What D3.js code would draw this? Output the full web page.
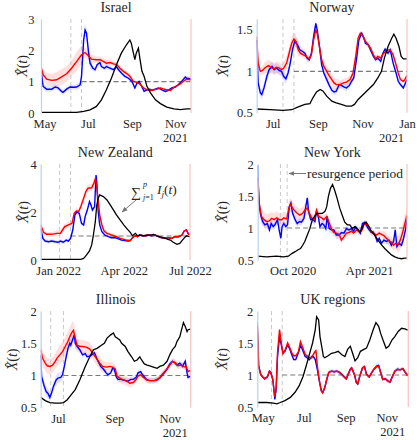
<!DOCTYPE html>
<html><head><meta charset="utf-8">
<script src="https://cdn.jsdelivr.net/npm/d3@7"></script>
<style>body{margin:0;background:#fff} svg{display:block} svg text{font-family:"Liberation Serif","DejaVu Serif","Times New Roman",serif !important;}</style>
</head><body>
<svg id="c" width="420" height="440"></svg>
<script>
// ---------- DATA (day offset from panel start, value) ----------
const israelBlue = [[0,1.38],[3,0.85],[8,0.76],[15,0.76],[20,0.83],[24,0.80],[29,0.69],[31,0.66],[36,0.76],[41,0.83],[46,0.82],[50,0.83],[55,0.90],[57,1.17],[60,2.33],[62,2.65],[64,2.55],[67,1.91],[69,1.59],[73,1.43],[76,1.38],[79,1.54],[83,1.61],[85,1.48],[89,1.43],[92,1.48],[97,1.43],[102,1.38],[106,1.48],[109,1.38],[114,1.25],[118,1.17],[123,1.11],[128,1.01],[132,0.80],[135,0.95],[138,1.01],[142,0.83],[145,0.69],[149,0.74],[153,0.76],[156,0.72],[161,0.76],[165,0.80],[170,0.74],[175,0.69],[179,0.72],[184,0.80],[189,0.83],[193,0.90],[198,1.01],[203,1.15],[205,1.11],[208,1.10],[211,1.08]];
const israelRed = [[0,1.48],[3,1.22],[8,1.08],[15,1.04],[22,1.06],[29,1.15],[36,1.25],[43,1.43],[50,1.64],[57,1.86],[62,1.93],[67,1.82],[71,1.72],[78,1.70],[83,1.70],[88,1.64],[92,1.59],[97,1.61],[102,1.57],[107,1.54],[111,1.43],[116,1.33],[121,1.25],[125,1.17],[130,1.01],[135,0.98],[140,0.90],[144,0.80],[149,0.74],[154,0.72],[158,0.74],[163,0.76],[168,0.80],[172,0.77],[177,0.74],[182,0.72],[186,0.80],[191,0.87],[196,0.93],[200,1.01],[205,1.08],[211,1.06]];
const israelBlack = [[0,0.02],[50,0.02],[60,0.05],[69,0.10],[78,0.21],[85,0.42],[92,0.74],[99,1.11],[107,1.59],[113,1.91],[120,2.17],[125,2.33],[127,2.23],[130,1.91],[132,1.70],[134,1.91],[137,2.07],[139,1.75],[142,1.33],[145,1.17],[149,0.85],[154,0.64],[161,0.42],[168,0.30],[177,0.19],[187,0.13],[196,0.11],[205,0.13],[211,0.13]];
const israelRedBand = [[0,0.12],[5,0.2],[20,0.25],[45,0.3],[60,0.15],[75,0.1],[100,0.08],[130,0.05],[160,0.04]];
const israelBlueBand = [[0,0.1],[10,0.08],[50,0.1],[58,0.18],[70,0.08],[100,0.05],[130,0.04],[195,0.07]];
const israelYTicks = [0, 1, 2, 3];
const israelXTicks = [["2021-05-01","May"],["2021-07-01","Jul"],["2021-09-01","Sep"],["2021-11-01","Nov"]];
const israelMarks = ["2021-06-07","2021-06-22"];

const norwayBlue = [[0,1.38],[2,0.86],[5,0.74],[7,0.72],[10,0.80],[14,0.94],[17,1.02],[21,1.06],[24,1.02],[27,1.04],[31,1.01],[34,1.00],[37,0.94],[40,0.91],[43,0.98],[46,1.10],[49,1.26],[52,1.36],[56,1.32],[59,1.26],[63,1.24],[66,1.22],[69,1.16],[72,1.14],[75,1.22],[78,1.42],[81,1.58],[83,1.50],[86,1.30],[89,1.08],[92,0.98],[96,0.90],[99,0.84],[103,0.77],[106,0.75],[109,0.76],[113,0.84],[116,0.83],[120,0.81],[123,0.80],[127,0.83],[130,0.88],[133,0.92],[137,1.16],[140,1.38],[144,1.46],[147,1.40],[149,1.34],[153,1.32],[156,1.26],[160,1.18],[163,1.14],[166,1.16],[170,1.12],[173,1.22],[176,1.27],[180,1.22],[183,1.26],[187,1.10],[191,0.98],[194,0.88],[197,0.84],[201,0.80],[203,0.84],[206,0.90]];
const norwayRed = [[0,1.42],[2,1.10],[5,1.00],[8,1.01],[11,1.04],[16,1.07],[21,1.04],[24,1.03],[27,1.05],[31,1.04],[34,1.02],[37,1.04],[41,1.10],[45,1.24],[48,1.34],[51,1.39],[54,1.36],[57,1.26],[60,1.22],[64,1.20],[68,1.18],[72,1.15],[75,1.20],[78,1.38],[81,1.50],[83,1.46],[86,1.30],[89,1.14],[92,1.06],[96,1.00],[99,0.95],[103,0.90],[106,0.86],[109,0.84],[114,0.84],[119,0.86],[123,0.87],[128,0.90],[132,0.98],[136,1.20],[139,1.40],[142,1.46],[146,1.42],[149,1.36],[153,1.32],[156,1.28],[160,1.20],[163,1.15],[166,1.18],[170,1.16],[173,1.21],[177,1.24],[180,1.26],[183,1.26],[187,1.20],[191,1.08],[194,0.98],[197,0.90],[201,0.88],[203,0.90],[206,0.95]];
const norwayBlack = [[0,0.545],[18,0.536],[36,0.528],[48,0.536],[57,0.57],[66,0.60],[73,0.61],[77,0.68],[82,0.75],[87,0.78],[91,0.76],[96,0.70],[103,0.64],[109,0.62],[116,0.60],[123,0.58],[130,0.58],[134,0.60],[139,0.66],[146,0.72],[153,0.78],[160,0.84],[166,0.92],[171,1.00],[175,1.16],[180,1.30],[185,1.40],[188,1.45],[191,1.40],[195,1.30],[198,1.18],[201,1.15],[206,1.15]];
const norwayRedBand = [[0,0.05],[10,0.07],[40,0.08],[60,0.04],[90,0.07],[110,0.05],[140,0.03]];
const norwayBlueBand = [[0,0.06],[60,0.04],[140,0.03]];
const norwayYTicks = [0.5, 1, 1.5];
const norwayXTicks = [["2020-07-01","Jul"],["2020-09-01","Sep"],["2020-11-01","Nov"],["2021-01-01","Jan"]];
const norwayMarks = ["2020-07-15","2020-07-30"];

const nzBlue = [[0,1.32],[3,0.90],[6,0.79],[11,0.76],[15,0.79],[20,0.76],[24,0.74],[27,0.79],[31,0.74],[35,0.83],[38,0.79],[41,0.90],[44,1.25],[47,1.88],[50,2.01],[53,1.94],[56,1.53],[59,1.46],[61,1.81],[64,2.08],[67,2.43],[69,2.29],[71,2.08],[74,2.22],[76,3.54],[77,3.26],[79,2.01],[81,1.46],[84,1.18],[88,1.04],[93,0.97],[97,0.93],[102,0.93],[107,0.88],[111,0.83],[116,0.81],[120,0.79],[123,0.81],[126,0.93],[130,1.01],[133,0.97],[136,1.04],[140,1.01],[144,1.01],[148,1.04],[152,1.01],[157,1.04],[162,0.97],[166,0.93],[171,0.93],[175,0.93],[180,0.90],[184,0.97],[189,0.97],[194,1.04],[197,1.21],[200,1.25],[203,1.07],[205,1.07]];
const nzRed = [[0,1.46],[4,1.15],[8,1.07],[15,1.07],[22,1.11],[27,1.11],[30,1.25],[33,1.39],[38,1.46],[43,1.53],[46,1.94],[49,2.04],[52,2.01],[55,2.22],[59,2.57],[62,2.85],[65,2.99],[70,3.01],[73,3.19],[75,3.40],[77,3.06],[79,2.43],[81,1.88],[84,1.46],[87,1.21],[91,1.11],[95,1.07],[100,1.01],[104,0.97],[109,0.90],[114,0.86],[118,0.82],[123,0.81],[126,0.93],[130,1.01],[133,0.97],[136,1.04],[140,1.01],[144,1.01],[148,1.04],[152,1.01],[157,1.04],[162,0.97],[166,0.93],[171,0.93],[175,0.93],[180,0.90],[184,0.97],[189,0.97],[194,1.04],[197,1.21],[200,1.25],[203,1.07],[205,1.07]];
const nzBlack = [[0,0.02],[54,0.02],[59,0.07],[63,0.21],[67,0.38],[70,0.63],[72,0.97],[75,1.60],[77,2.29],[79,2.57],[81,2.71],[86,2.64],[91,2.50],[95,2.32],[100,2.08],[104,1.88],[109,1.67],[114,1.46],[118,1.32],[123,1.15],[126,1.01],[130,1.11],[133,1.01],[136,1.04],[141,1.01],[146,1.04],[150,1.04],[155,1.07],[159,1.01],[164,0.96],[168,0.93],[173,0.88],[178,0.83],[182,0.74],[187,0.65],[191,0.69],[196,0.88],[200,1.01],[205,0.97]];
const nzRedBand = [[0,0.1],[20,0.12],[60,0.15],[85,0.08],[120,0.04]];
const nzBlueBand = [[0,0.08],[50,0.1],[80,0.06],[120,0.03]];
const nzYTicks = [0, 2, 4];
const nzXTicks = [["2022-01-01","Jan 2022"],["2022-04-01","Apr 2022"],["2022-07-01","Jul 2022"]];
const nzMarks = ["2022-01-03","2022-01-18"];

const nyBlue = [[0,1.98],[3,1.41],[7,1.20],[12,1.10],[17,1.05],[23,1.07],[28,0.97],[32,1.07],[37,1.02],[41,1.05],[47,1.13],[51,0.97],[55,0.84],[58,1.02],[62,1.07],[67,1.02],[71,1.05],[75,1.33],[79,1.39],[83,1.23],[89,1.13],[94,1.07],[99,1.10],[104,1.09],[110,1.15],[115,1.36],[118,1.47],[121,1.26],[126,1.13],[130,1.14],[136,1.10],[140,1.26],[144,1.18],[148,1.02],[153,1.07],[157,1.05],[162,0.99],[165,1.18],[170,0.99],[175,0.97],[181,0.97],[187,0.89],[194,0.89],[199,0.93],[205,0.92],[211,0.99],[217,0.97],[223,0.99],[228,0.95],[233,1.02],[239,0.97],[244,0.92],[249,1.07],[255,1.09],[260,1.02],[265,0.97],[270,0.93],[274,0.94],[279,0.89],[284,0.79],[289,0.84],[294,0.76],[300,0.81],[306,0.79],[312,0.81],[318,0.73],[323,0.79],[327,0.97],[331,0.71],[336,0.76],[342,0.73],[347,0.84],[352,0.99],[355,1.15]];
const nyRed = [[0,1.78],[4,1.36],[9,1.18],[15,1.13],[21,1.10],[28,1.11],[33,1.15],[39,1.13],[45,1.16],[51,1.13],[57,1.13],[62,1.16],[69,1.14],[74,1.31],[78,1.37],[83,1.31],[89,1.26],[94,1.23],[100,1.20],[107,1.23],[112,1.28],[118,1.31],[123,1.23],[128,1.16],[134,1.13],[140,1.28],[145,1.18],[152,1.16],[157,1.13],[164,1.18],[169,1.10],[175,0.99],[181,0.93],[187,0.92],[194,0.90],[199,0.81],[205,0.86],[211,0.92],[217,0.93],[223,0.95],[228,0.92],[235,0.97],[241,0.94],[247,0.95],[252,1.05],[258,1.07],[265,1.01],[270,0.93],[276,0.92],[282,0.89],[289,0.92],[294,0.90],[300,0.88],[306,0.84],[312,0.80],[318,0.78],[323,0.73],[328,0.76],[334,0.74],[339,0.81],[345,0.94],[350,1.07],[355,1.20]];
const nyBlack = [[0,0.56],[21,0.55],[45,0.56],[61,0.55],[73,0.56],[81,0.60],[89,0.63],[96,0.66],[102,0.68],[107,0.73],[112,0.79],[118,0.89],[124,0.99],[130,1.13],[136,1.19],[142,1.23],[148,1.23],[154,1.23],[160,1.26],[164,1.33],[168,1.49],[173,1.62],[178,1.68],[183,1.59],[189,1.46],[195,1.31],[202,1.18],[207,1.09],[213,1.05],[219,1.05],[225,0.99],[231,1.02],[236,0.99],[243,0.94],[248,0.99],[253,1.07],[258,1.09],[265,1.02],[270,0.95],[278,0.89],[286,0.81],[294,0.74],[302,0.68],[310,0.63],[318,0.58],[326,0.55],[334,0.53],[342,0.52],[349,0.53],[355,0.53]];
const nyRedBand = [[0,0.12],[30,0.1],[120,0.06],[200,0.05],[300,0.08],[330,0.14]];
const nyBlueBand = [[0,0.06],[200,0.04],[300,0.05]];
const nyYTicks = [0.5, 1, 1.5, 2];
const nyXTicks = [["2020-10-01","Oct 2020"],["2021-04-01","Apr 2021"]];
const nyMarks = ["2020-09-02","2020-09-18"];

const ilBlue = [[0,1.32],[1,0.98],[4,0.83],[6,0.75],[8,0.72],[10,0.66],[12,0.73],[14,0.83],[17,0.93],[19,0.96],[22,0.97],[24,1.01],[26,1.14],[28,1.29],[30,1.42],[32,1.50],[33,1.47],[35,1.55],[37,1.63],[38,1.50],[40,1.45],[43,1.40],[46,1.32],[49,1.34],[51,1.29],[54,1.30],[56,1.32],[59,1.35],[61,1.29],[63,1.22],[66,1.14],[69,1.10],[72,1.04],[74,1.01],[77,1.04],[79,1.11],[81,1.10],[83,0.98],[85,0.94],[88,0.94],[91,0.93],[94,0.92],[96,0.91],[99,0.94],[102,0.94],[105,0.97],[107,1.04],[110,1.06],[112,1.01],[115,0.96],[117,0.93],[120,0.92],[123,0.92],[126,0.92],[128,0.94],[131,0.96],[134,1.01],[137,1.06],[139,1.10],[142,1.18],[145,1.22],[148,1.19],[150,1.16],[153,1.19],[156,1.14],[159,1.22],[161,1.04],[162,0.97],[165,0.99]];
const ilRed = [[0,1.40],[2,1.27],[5,1.19],[7,1.15],[10,1.14],[13,1.16],[16,1.22],[18,1.27],[21,1.32],[24,1.37],[27,1.45],[30,1.53],[32,1.60],[34,1.66],[36,1.70],[38,1.58],[40,1.47],[43,1.45],[46,1.45],[50,1.44],[54,1.41],[57,1.35],[61,1.27],[65,1.19],[68,1.14],[72,1.13],[76,1.14],[79,1.13],[82,1.10],[84,0.99],[87,0.96],[91,0.93],[95,0.91],[98,0.88],[102,0.89],[105,0.94],[107,0.99],[110,1.01],[113,0.97],[117,0.93],[120,0.92],[124,0.92],[128,0.93],[131,0.97],[135,1.04],[139,1.10],[142,1.16],[145,1.22],[148,1.20],[151,1.15],[155,1.16],[158,1.13],[160,1.14],[162,1.06],[165,1.08]];
const ilBlack = [[0,0.66],[5,0.61],[10,0.58],[16,0.57],[21,0.57],[25,0.58],[29,0.62],[33,0.69],[38,0.78],[43,0.93],[49,1.14],[54,1.29],[58,1.40],[62,1.42],[66,1.46],[70,1.50],[73,1.58],[77,1.63],[80,1.66],[82,1.60],[84,1.58],[87,1.55],[89,1.50],[93,1.45],[96,1.37],[100,1.29],[103,1.22],[106,1.24],[109,1.29],[111,1.24],[114,1.18],[117,1.16],[120,1.15],[124,1.13],[128,1.11],[131,1.14],[135,1.16],[139,1.22],[142,1.32],[145,1.40],[148,1.45],[150,1.53],[153,1.60],[155,1.71],[157,1.82],[159,1.76],[161,1.68],[162,1.71],[165,1.72]];
const ilRedBand = [[0,0.12],[20,0.15],[40,0.1],[70,0.07],[100,0.05]];
const ilBlueBand = [[0,0.08],[40,0.04]];
const ilYTicks = [0.5, 1, 1.5, 2];
const ilXTicks = [["2021-07-01","Jul"],["2021-09-01","Sep"],["2021-11-01","Nov"]];
const ilMarks = ["2021-06-23","2021-07-07"];

const ukBlue = [[0,1.76],[2,1.14],[5,1.01],[8,0.97],[11,0.94],[15,0.97],[18,1.06],[20,1.04],[23,0.93],[25,0.73],[26,0.62],[28,0.78],[30,1.29],[33,1.60],[35,1.50],[38,1.35],[41,1.37],[45,1.47],[48,1.41],[51,1.32],[54,1.24],[57,1.24],[61,1.35],[64,1.46],[67,1.40],[71,1.29],[74,1.27],[77,1.24],[81,1.29],[83,1.29],[86,1.24],[89,1.09],[92,0.91],[95,0.75],[97,0.73],[100,0.80],[103,0.93],[106,1.04],[110,1.06],[114,1.05],[118,1.06],[122,1.04],[125,1.01],[129,0.97],[132,0.94],[134,0.99],[138,1.09],[140,1.11],[144,1.01],[147,0.88],[149,0.86],[152,0.98],[156,1.11],[159,1.13],[162,1.01],[166,0.97],[170,1.04],[173,1.09],[177,1.14],[180,1.15],[183,1.04],[186,0.93],[190,0.94],[193,0.91],[197,0.89],[201,0.99],[204,1.06],[208,1.09],[212,1.08],[216,1.10],[219,1.05],[223,0.99]];
const ukRed = [[0,1.82],[2,1.14],[5,1.01],[8,0.97],[11,0.94],[15,0.97],[18,1.06],[20,1.04],[23,0.93],[25,0.74],[26,0.66],[28,0.80],[30,1.35],[33,1.71],[35,1.55],[38,1.33],[41,1.38],[45,1.50],[48,1.43],[51,1.35],[54,1.30],[57,1.30],[61,1.36],[64,1.52],[67,1.44],[71,1.32],[74,1.30],[77,1.27],[81,1.27],[83,1.32],[86,1.37],[87,1.38],[89,1.15],[92,0.91],[95,0.75],[97,0.72],[100,0.80],[103,0.93],[106,1.04],[110,1.06],[114,1.05],[118,1.06],[122,1.04],[125,1.01],[129,0.97],[132,0.94],[134,0.99],[138,1.09],[140,1.11],[144,1.01],[147,0.88],[149,0.86],[152,0.98],[156,1.11],[159,1.13],[162,1.01],[166,0.97],[170,1.04],[173,1.09],[177,1.13],[180,1.14],[183,1.04],[186,0.93],[190,0.94],[193,0.91],[197,0.89],[201,0.99],[204,1.06],[208,1.09],[212,1.08],[216,1.10],[219,1.05],[223,0.99]];
const ukBlack = [[0,0.57],[14,0.57],[24,0.56],[29,0.55],[34,0.57],[41,0.60],[49,0.65],[56,0.73],[62,0.83],[68,0.98],[73,1.16],[78,1.35],[82,1.50],[86,1.71],[88,1.91],[91,1.86],[93,1.60],[96,1.42],[98,1.29],[100,1.27],[105,1.30],[110,1.34],[115,1.35],[120,1.37],[125,1.32],[130,1.29],[134,1.40],[138,1.45],[142,1.32],[145,1.22],[149,1.27],[153,1.37],[158,1.40],[162,1.42],[167,1.55],[172,1.71],[176,1.82],[180,1.76],[183,1.65],[187,1.53],[191,1.42],[195,1.45],[200,1.55],[204,1.60],[209,1.68],[214,1.73],[219,1.72],[223,1.70]];
const ukRedBand = [[0,0.03]];
const ukBlueBand = [[0,0.03]];
const ukYTicks = [0.5, 1, 1.5, 2];
const ukXTicks = [["2021-05-01","May"],["2021-07-01","Jul"],["2021-09-01","Sep"],["2021-11-01","Nov"]];
const ukMarks = ["2021-05-14","2021-05-30"];

// ---------- LAYOUT ----------
const panels = [
  {title:"Israel", start:"2021-04-26", end:"2021-11-23", blue:israelBlue, red:israelRed, black:israelBlack, rb:israelRedBand, bb:israelBlueBand, yd:[0,3], yt:israelYTicks, xt:israelXTicks, marks:israelMarks, year:"2021", box:[41,191,19,113], ylx:27, ypad:6.5},
  {title:"Norway", start:"2020-06-09", end:"2021-01-01", blue:norwayBlue, red:norwayRed, black:norwayBlack, rb:norwayRedBand, bb:norwayBlueBand, yd:[0.5,1.633], yt:norwayYTicks, xt:norwayXTicks, marks:norwayMarks, year:"2021", box:[256.7,407,19,112.7], ylx:228, ypad:4},
  {title:"New Zealand", start:"2021-12-08", end:"2022-07-01", blue:nzBlue, red:nzRed, black:nzBlack, rb:nzRedBand, bb:nzBlueBand, yd:[0,4], yt:nzYTicks, xt:nzXTicks, marks:nzMarks, year:null, box:[40.7,190,164,260], ylx:28, ypad:4},
  {title:"New York", start:"2020-07-10", end:"2021-06-30", blue:nyBlue, red:nyRed, black:nyBlack, rb:nyRedBand, bb:nyBlueBand, yd:[0.5,2], yt:nyYTicks, xt:nyXTicks, marks:nyMarks, year:null, box:[257.7,407,164,260], ylx:227, ypad:4},
  {title:"Illinois", start:"2021-06-12", end:"2021-11-24", blue:ilBlue, red:ilRed, black:ilBlack, rb:ilRedBand, bb:ilBlueBand, yd:[0.5,2], yt:ilYTicks, xt:ilXTicks, marks:ilMarks, year:"2021", box:[40.7,190.7,311,407.7], ylx:17, ypad:4},
  {title:"UK regions", start:"2021-04-23", end:"2021-12-03", blue:ukBlue, red:ukRed, black:ukBlack, rb:ukRedBand, bb:ukBlueBand, yd:[0.5,2], yt:ukYTicks, xt:ukXTicks, marks:ukMarks, year:"2021", box:[257.3,408.3,311,407], ylx:227, ypad:4}
];

const FONT = "Liberation Serif, DejaVu Serif, serif";
const TXT = "#262626";
const parse = d3.timeParse("%Y-%m-%d");
const svg = d3.select("#c");
const defs = svg.append("defs");
defs.append("marker").attr("id","arr").attr("viewBox","0 0 10 10").attr("refX",9).attr("refY",5)
  .attr("markerWidth",6).attr("markerHeight",6).attr("orient","auto-start-reverse")
  .append("path").attr("d","M0,1 L10,5 L0,9 z").attr("fill","#777");

function bandAt(band, d){ let w = band[0][1]; for (const [bd,bw] of band) if (bd <= d) w = bw; return w; }

panels.forEach((p, i) => {
  const [L,R,T,B] = p.box;
  const s = parse(p.start), e = parse(p.end);
  const x = d3.scaleTime().domain([s,e]).range([L,R]);
  const y = d3.scaleLinear().domain(p.yd).range([B,T]);
  const dt = d => d3.timeDay.offset(s, d);
  const g = svg.append("g");
  const cid = "clip"+i;
  defs.append("clipPath").attr("id",cid).append("rect").attr("x",L).attr("y",T).attr("width",R-L).attr("height",B-T);
  const plot = g.append("g").attr("clip-path",`url(#${cid})`);

  const area = (band) => d3.area().x(q=>x(dt(q[0]))).y0(q=>y(q[1]-bandAt(band,q[0]))).y1(q=>y(q[1]+bandAt(band,q[0])));
  plot.append("path").datum(p.red).attr("d",area(p.rb)).attr("fill","#ff0000").attr("fill-opacity",0.13);
  plot.append("path").datum(p.blue).attr("d",area(p.bb)).attr("fill","#0000ff").attr("fill-opacity",0.11);

  p.marks.forEach(m => {
    plot.append("line").attr("x1",x(parse(m))).attr("x2",x(parse(m))).attr("y1",T).attr("y2",B)
      .attr("stroke","#c8c8c8").attr("stroke-width",1).attr("stroke-dasharray","4,3");
  });
  plot.append("line").attr("x1",x(parse(p.marks[1]))).attr("x2",R).attr("y1",y(1)).attr("y2",y(1))
    .attr("stroke","#7a7a7a").attr("stroke-width",1.1).attr("stroke-dasharray","5,3");

  const line = d3.line().x(q=>x(dt(q[0]))).y(q=>y(q[1]));
  plot.append("path").datum(p.blue).attr("d",line).attr("fill","none").attr("stroke","#0000ff").attr("stroke-width",1.4);
  plot.append("path").datum(p.red).attr("d",line).attr("fill","none").attr("stroke","#ff0000").attr("stroke-width",1.4);
  plot.append("path").datum(p.black).attr("d",line).attr("fill","none").attr("stroke","#000").attr("stroke-width",1.3);

  const ya = g.append("g").attr("transform",`translate(${L},0)`)
    .call(d3.axisLeft(y).tickValues(p.yt).tickFormat(d=>String(d)).tickSize(0).tickPadding(p.ypad));
  ya.attr("font-family",FONT);
  ya.select(".domain").attr("stroke","#b6d3f2").attr("stroke-width",1.2);
  ya.selectAll("text").attr("font-size",12.5).attr("fill",TXT);
  g.append("line").attr("x1",R).attr("x2",R).attr("y1",T).attr("y2",B).attr("stroke","#f6c4c4").attr("stroke-width",1.2);

  const xa = g.append("g").attr("transform",`translate(0,${B})`)
    .call(d3.axisBottom(x).tickValues(p.xt.map(t=>parse(t[0]))).tickFormat((d,k)=>p.xt[k][1]).tickSize(0).tickPadding(6));
  xa.attr("font-family",FONT);
  xa.select(".domain").remove();
  xa.selectAll("text").attr("font-size",12.5).attr("fill",TXT);
  if (p.year) g.append("text").attr("x",R-3).attr("y",B+29).attr("text-anchor","end")
    .attr("font-family",FONT).attr("font-size",12.5).attr("fill",TXT).text(p.year);

  g.append("text").attr("x",(L+R)/2).attr("y",T-7).attr("text-anchor","middle")
    .attr("font-family",FONT).attr("font-size",14).attr("fill",TXT).text(p.title);

  const yl = g.append("text").attr("transform",`translate(${p.ylx},${(T+B)/2}) rotate(-90)`).attr("text-anchor","middle")
    .attr("font-family",FONT).attr("font-size",14).attr("fill",TXT);
  yl.append("tspan").attr("font-style","italic").text("X\u0302");
  yl.append("tspan").text("(");
  yl.append("tspan").attr("font-style","italic").text("t");
  yl.append("tspan").text(")");
});

// annotation: New Zealand sum (one text element)
const ann = svg.append("text").attr("font-family",FONT).attr("fill",TXT).attr("font-size",13.5);
ann.append("tspan").attr("x",131).attr("y",197).attr("font-size",14).text("\u2211");
ann.append("tspan").attr("x",143).attr("y",187).attr("font-size",8).attr("font-style","italic").text("p");
ann.append("tspan").attr("x",143).attr("y",200).attr("font-size",8).attr("font-style","italic").text("j");
ann.append("tspan").attr("font-size",8).text("=1");
ann.append("tspan").attr("x",157).attr("y",194).attr("font-style","italic").text("I");
ann.append("tspan").attr("y",197).attr("font-style","italic").attr("font-size",9).text("j");
ann.append("tspan").attr("y",194).text("(");
ann.append("tspan").attr("font-style","italic").text("t");
ann.append("tspan").text(")");
svg.append("line").attr("x1",136).attr("y1",200).attr("x2",122).attr("y2",212)
  .attr("stroke","#777").attr("stroke-width",1).attr("marker-end","url(#arr)");

// annotation: New York
svg.append("line").attr("x1",306).attr("y1",173.5).attr("x2",289).attr("y2",173.5)
  .attr("stroke","#777").attr("stroke-width",1).attr("marker-end","url(#arr)");
svg.append("text").attr("x",307).attr("y",177.5).attr("font-family",FONT).attr("font-size",13.5).attr("fill",TXT).text("resurgence period");
</script>
</body></html>
